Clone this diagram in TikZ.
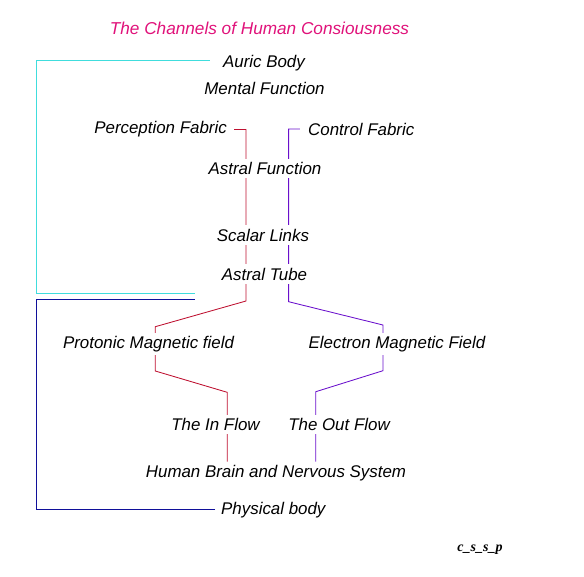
\documentclass[tikz,border=0pt]{standalone}
\usepackage{fontspec}
\setmainfont{Liberation Sans}
\newfontfamily\sigfont{Liberation Serif}
\usepackage{xcolor}
\usepackage{tikz}
\usetikzlibrary{backgrounds}
\definecolor{titlepink}{HTML}{E0127A}
\definecolor{auriccyan}{HTML}{40DDDD}
\definecolor{physblue}{HTML}{10109A}
\definecolor{inred}{HTML}{BE1030}
\definecolor{outpurple}{HTML}{6A10CC}

\begin{document}
\begin{tikzpicture}[
    x=1pt, y=-1pt,
    lbl/.style={fill=white, inner sep=3.3pt,
                font=\fontsize{16.9}{19}\selectfont\itshape},
    chan/.style={line width=0.85pt},
  ]
    \useasboundingbox (0,0) rectangle (584,576);

    \node[font=\fontsize{17.2}{19}\selectfont\itshape, text=titlepink] (title) at (259.5,28.5)
      {The Channels of Human Consiousness};
    \node[lbl] (auric) at (264,63.5) {Auric Body};
    \node[lbl] (mental) at (264.5,88) {Mental Function};
    \node[lbl, anchor=east] (perc) at (230.3,129.5) {Perception Fabric};
    \node[lbl, anchor=west] (ctrl) at (304.7,129) {Control Fabric};
    \node[lbl] (astralfn) at (265,168.5) {Astral Function};
    \node[lbl] (scalar) at (263,235) {Scalar Links};
    \node[lbl] (tube) at (264.5,274) {Astral Tube};
    \node[lbl] (proton) at (148.5,344) {Protonic Magnetic field};
    \node[lbl] (electron) at (397,344) {Electron Magnetic Field};
    \node[lbl] (inflow) at (215.5,424) {The In Flow};
    \node[lbl] (outflow) at (339,424) {The Out Flow};
    \node[lbl] (brain) at (276,473) {Human Brain and Nervous System};
    \node[lbl, anchor=west] (physical) at (217.7,510) {Physical body};
    \node[font=\sigfont\fontsize{14}{16}\selectfont\bfseries\itshape] (sig) at (480,550)
      {c\_s\_s\_p};

    \coordinate (c0) at (36.5,60.7);
    \coordinate (c1) at (36.5,293.3);
    \coordinate (c2) at (195,293.3);
    \coordinate (b0) at (36.5,509.3);
    \coordinate (b1) at (36.5,299.3);
    \coordinate (b2) at (195,299.3);
    \coordinate (r1) at (246,301);
    \coordinate (r2) at (155.3,326.7);
    \coordinate (r3) at (155.3,371);
    \coordinate (r4) at (227.2,392.3);
    \coordinate (p1) at (288.6,301.7);
    \coordinate (p2) at (383,325);
    \coordinate (p3) at (383,370.7);
    \coordinate (p4) at (315.8,391.7);

    \begin{scope}[on background layer]
      \draw[chan, auriccyan, shorten <=9.7pt] (auric.west |- c0) -- (c0) -- (c1) -- (c2);
      \draw[chan, physblue, shorten <=2.7pt] (physical.west |- b0) -- (b0) -- (b1) -- (b2);
      \draw[chan, inred, shorten <=3.7pt] (perc.east) -| (r1) -- (r2) -- (r3)
        -- (r4) -- (brain.north -| r4);
      \draw[chan, outpurple, shorten <=4.9pt] (ctrl.west) -| (p1) -- (p2) -- (p3)
        -- (p4) -- (brain.north -| p4);
    \end{scope}
  \end{tikzpicture}
\end{document}
